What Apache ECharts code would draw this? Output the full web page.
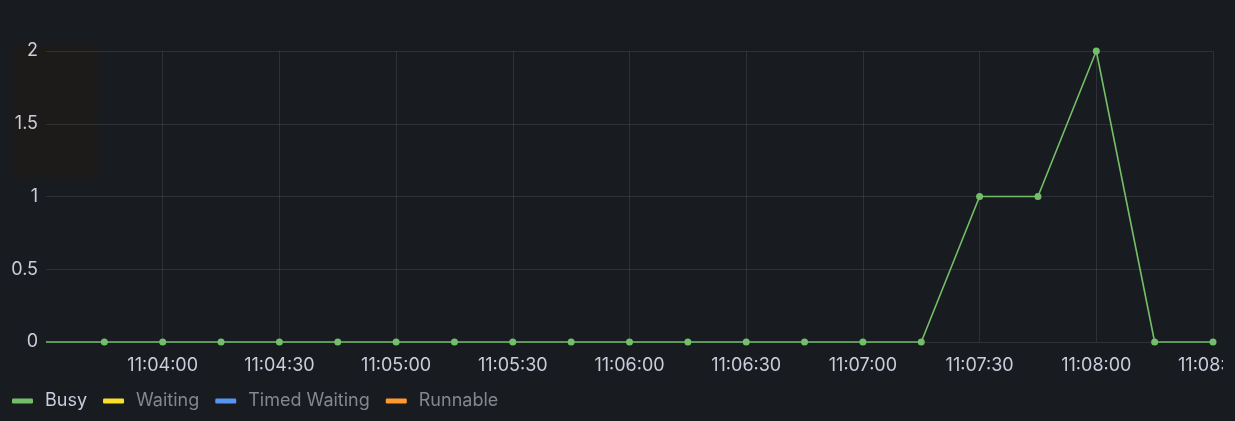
<!DOCTYPE html>
<html>
<head>
<meta charset="utf-8">
<style>
html,body{margin:0;padding:0;background:#181b1f;}
#chart{width:1223px;height:421px;}
</style>
<script src="https://cdn.jsdelivr.net/npm/echarts@6/dist/echarts.min.js"></script>
</head>
<body>
<div id="chart"></div>
<script>
const times = ['11:03:30','11:03:45','11:04:00','11:04:15','11:04:30','11:04:45','11:05:00','11:05:15','11:05:30','11:05:45','11:06:00','11:06:15','11:06:30','11:06:45','11:07:00','11:07:15','11:07:30','11:07:45','11:08:00','11:08:15','11:08:30'];
const busy = [0,0,0,0,0,0,0,0,0,0,0,0,0,0,0,0,1,1,2,0,0];
const seriesNames = ['Busy','Waiting','Timed Waiting','Runnable'];
const seriesColors = ['#73bf69','#fade2a','#5794f2','#ff9830'];
const xStart = '11:03:30';
const xEnd = '11:08:30';
const yTicks = [0,0.5,1,1.5,2];

function toSec(t){const p=t.split(':').map(Number);return p[0]*3600+p[1]*60+p[2];}
function fmt(s){const h=Math.floor(s/3600),m=Math.floor((s%3600)/60),x=Math.round(s%60);const z=n=>String(n).padStart(2,'0');return z(h)+':'+z(m)+':'+z(x);}

const chart = echarts.init(document.getElementById('chart'));
const busyData = times.map((t,i)=>{
  const d = {value:[toSec(t), busy[i]]};
  if (i===0) d.symbol='none';
  return d;
});
const font = 'Inter, "Noto Sans", sans-serif';
const series = seriesNames.map((n,i)=>({
  name:n, type:'line',
  data: i===0 ? busyData : [],
  color: seriesColors[i],
  symbol:'circle', symbolSize:7,
  lineStyle:{width:1.6, color:seriesColors[i]},
  itemStyle:{color:seriesColors[i]},
  clip:false,
  animation:false
}));
chart.setOption({
  backgroundColor:'#181b1f',
  animation:false,
  graphic:[{type:'rect', shape:{x:13,y:45,width:84,height:132}, style:{fill:'#1c1b1a'}, z:-1}],
  grid:{left:46,right:10,top:51,bottom:79,containLabel:false,outerBoundsMode:'none'},
  xAxis:{
    type:'value', min:toSec(xStart), max:toSec(xEnd), interval:30,
    axisLine:{show:false}, axisTick:{show:false},
    axisLabel:{formatter:v=>fmt(v), color:'#ccccdc', fontFamily:font, fontSize:18, margin:15, showMinLabel:false, showMaxLabel:true, hideOverlap:false},
    splitLine:{show:true, showMinLine:false, lineStyle:{color:'rgba(204,204,220,0.12)', width:1}}
  },
  yAxis:{
    type:'value', min:yTicks[0], max:yTicks[yTicks.length-1], interval:0.5,
    axisLine:{show:false}, axisTick:{show:false},
    axisLabel:{color:'#ccccdc', fontFamily:font, fontSize:18, margin:8},
    splitLine:{show:true, lineStyle:{color:'rgba(204,204,220,0.12)', width:1}}
  },
  legend:{
    left:7, top:387, icon:'roundRect', itemWidth:21, itemHeight:5, itemGap:16,
    selectedMode:false,
    textStyle:{fontFamily:font, fontSize:18, padding:[0,0,0,7]},
    data: seriesNames.map((n,i)=>({name:n, textStyle:{color: i===0 ? '#ccccdc' : '#85868f'}}))
  },
  series: series
});
</script>
</body>
</html>
